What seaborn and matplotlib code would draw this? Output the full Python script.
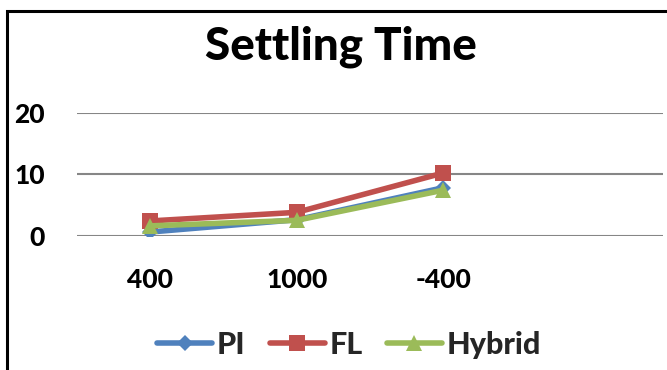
import matplotlib
matplotlib.use("Agg")
import matplotlib.pyplot as plt
from matplotlib.patches import Rectangle
import seaborn as sns
import pandas as pd

# Settling time per test case for each controller
categories = ["400", "1000", "-400"]
series_names = ["PI", "FL", "Hybrid"]
pi_values = [0.6, 2.6, 7.8]
fl_values = [2.4, 3.8, 10.2]
hybrid_values = [1.6, 2.5, 7.4]
y_ticks = [0, 10, 20]

colors = {"PI": "#4F81BD", "FL": "#C0504D", "Hybrid": "#9BBB59"}
markers = {"PI": "D", "FL": "s", "Hybrid": "^"}
marker_sizes = {"PI": 8, "FL": 12, "Hybrid": 12}

df = pd.DataFrame({
    "case": categories * 3,
    "pos": list(range(len(categories))) * 3,
    "series": [s for s in series_names for _ in categories],
    "value": pi_values + fl_values + hybrid_values,
})

sns.set_theme(style="white")
plt.rcParams["font.family"] = ["Lato", "DejaVu Sans"]
plt.rcParams["font.weight"] = "bold"

W, H = 667, 370
fig = plt.figure(figsize=(W / 100, H / 100), dpi=100)
ax = fig.add_axes([77 / W, 1 - 235.7 / H, (663 - 77) / W, (235.7 - 112.7) / H])

for name in series_names:
    sub = df[df["series"] == name]
    sns.lineplot(data=sub, x="pos", y="value", ax=ax, color=colors[name],
                 marker=markers[name], markersize=marker_sizes[name],
                 markeredgewidth=0, linewidth=4, label=name, legend=False,
                 zorder=3)

ax.set_xlim(-0.5, 3.5)
ax.set_ylim(0, 20)
ax.set_xticks(range(len(categories)))
ax.set_xticklabels(categories)
ax.set_yticks(y_ticks)
ax.set_xlabel("")
ax.set_ylabel("")
ax.grid(axis="y", color="#868686", linewidth=1.5)
ax.grid(axis="x", visible=False)
for side in ax.spines.values():
    side.set_visible(False)
ax.tick_params(axis="both", length=0, labelsize=19, colors="black")
ax.tick_params(axis="y", pad=23)
ax.tick_params(axis="x", pad=23)
for lbl in ax.get_xticklabels() + ax.get_yticklabels():
    lbl.set_fontweight("black")

fig.text(341 / W, 1 - 47 / H, "Settling Time", ha="center", va="center",
         fontsize=33, fontweight="black", color="black")

handles, labels = ax.get_legend_handles_labels()
leg = fig.legend(handles, labels, loc="center", ncol=3,
                 bbox_to_anchor=(349 / W, 1 - 345 / H), frameon=False,
                 handlelength=1.8, handletextpad=0.15,
                 columnspacing=0.8, prop={"weight": "black", "size": 22})

# chart frame
fig.patches.append(Rectangle((6.5 / W, -0.1), 2, 1.1 - 11 / H,
                             transform=fig.transFigure, fill=False,
                             edgecolor="black", linewidth=2.2))

fig.savefig("out.png", dpi=100)
